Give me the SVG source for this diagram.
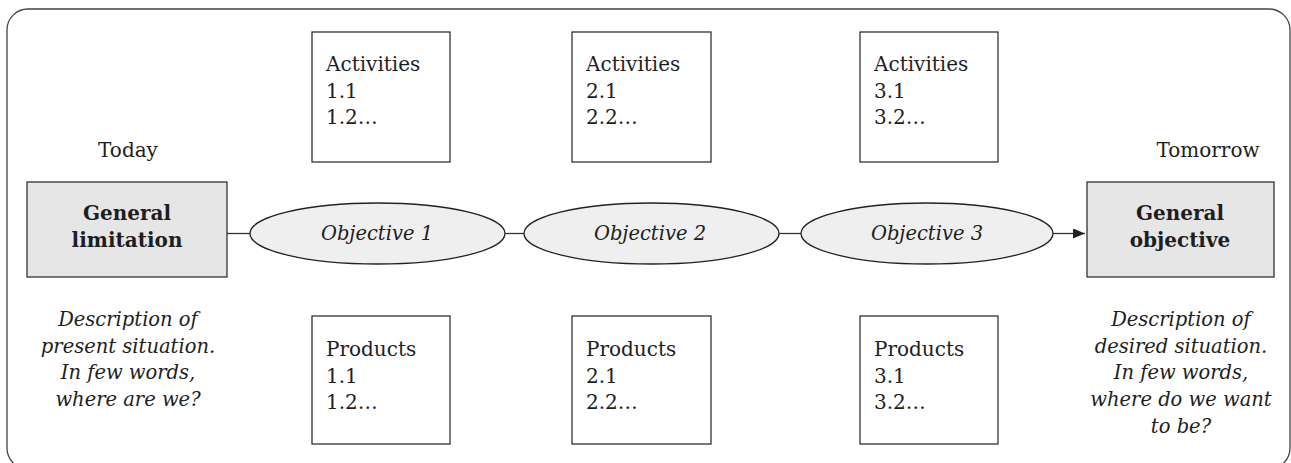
<svg xmlns="http://www.w3.org/2000/svg" width="1291" height="463" viewBox="0 0 1291 463">
  <style>
    .frame { fill: #ffffff; stroke: #444444; stroke-width: 1.3; }
    .box { fill: #ffffff; stroke: #333333; stroke-width: 1.3; }
    .goal { fill: #e6e6e6; stroke: #333333; stroke-width: 1.3; }
    .obj { fill: #efefef; stroke: #222222; stroke-width: 1.3; }
    .link { fill: none; stroke: #333333; stroke-width: 1.3; }
    text { font-family: "DejaVu Serif", "Liberation Serif", serif; font-size: 20px; fill: #1e1e1e; }
    .c { text-anchor: middle; }
    .b { font-weight: bold; }
    .i { font-style: italic; font-size: 19.5px; }
  </style>
  <defs>
    <marker id="arrow" markerWidth="12" markerHeight="10" refX="12" refY="5" orient="auto" markerUnits="userSpaceOnUse">
      <path d="M0,0 L12,5 L0,10 Z" fill="#222222"/>
    </marker>
  </defs>

  <!-- outer frame -->
  <rect class="frame" x="7" y="9" width="1283" height="460" rx="21" ry="21"/>

  <!-- connectors along the objective chain -->
  <g id="connectors">
    <line class="link" x1="227" y1="233.5" x2="250" y2="233.5"/>
    <line class="link" x1="505" y1="233.5" x2="524" y2="233.5"/>
    <line class="link" x1="779" y1="233.5" x2="801" y2="233.5"/>
    <line class="link" x1="1053" y1="233.5" x2="1085" y2="233.5" marker-end="url(#arrow)"/>
  </g>

  <!-- starting point -->
  <g id="today">
    <text class="c" x="128" y="157">Today</text>
    <rect class="goal" x="27" y="182" width="200" height="95"/>
    <text class="c b" x="127" y="220">General</text>
    <text class="c b" x="127" y="247">limitation</text>
    <text class="c i" x="128" y="326">Description of</text>
    <text class="c i" x="128" y="353">present situation.</text>
    <text class="c i" x="128" y="379">In few words,</text>
    <text class="c i" x="128" y="406">where are we?</text>
  </g>

  <!-- target point -->
  <g id="tomorrow">
    <text class="c" x="1208" y="157">Tomorrow</text>
    <rect class="goal" x="1087" y="182" width="187" height="95"/>
    <text class="c b" x="1180" y="220">General</text>
    <text class="c b" x="1180" y="247">objective</text>
    <text class="c i" x="1181" y="326">Description of</text>
    <text class="c i" x="1181" y="353">desired situation.</text>
    <text class="c i" x="1181" y="379">In few words,</text>
    <text class="c i" x="1181" y="406">where do we want</text>
    <text class="c i" x="1181" y="433">to be?</text>
  </g>

  <!-- objectives -->
  <g id="objective1">
    <ellipse class="obj" cx="377.5" cy="233.5" rx="127.5" ry="30.5"/>
    <text class="c i" x="377" y="240">Objective 1</text>
  </g>
  <g id="objective2">
    <ellipse class="obj" cx="651.5" cy="233.5" rx="127.5" ry="30.5"/>
    <text class="c i" x="650" y="240">Objective 2</text>
  </g>
  <g id="objective3">
    <ellipse class="obj" cx="927" cy="233.5" rx="126" ry="30.5"/>
    <text class="c i" x="927" y="240">Objective 3</text>
  </g>

  <!-- activities -->
  <g id="activities1">
    <rect class="box" x="312" y="32" width="138" height="130"/>
    <text x="326" y="71">Activities</text>
    <text x="326" y="98">1.1</text>
    <text x="326" y="124">1.2…</text>
  </g>
  <g id="activities2">
    <rect class="box" x="572" y="32" width="139" height="130"/>
    <text x="586" y="71">Activities</text>
    <text x="586" y="98">2.1</text>
    <text x="586" y="124">2.2…</text>
  </g>
  <g id="activities3">
    <rect class="box" x="860" y="32" width="138" height="130"/>
    <text x="874" y="71">Activities</text>
    <text x="874" y="98">3.1</text>
    <text x="874" y="124">3.2…</text>
  </g>

  <!-- products -->
  <g id="products1">
    <rect class="box" x="312" y="316" width="138" height="128"/>
    <text x="326" y="356">Products</text>
    <text x="326" y="383">1.1</text>
    <text x="326" y="409">1.2…</text>
  </g>
  <g id="products2">
    <rect class="box" x="572" y="316" width="139" height="128"/>
    <text x="586" y="356">Products</text>
    <text x="586" y="383">2.1</text>
    <text x="586" y="409">2.2…</text>
  </g>
  <g id="products3">
    <rect class="box" x="860" y="316" width="138" height="128"/>
    <text x="874" y="356">Products</text>
    <text x="874" y="383">3.1</text>
    <text x="874" y="409">3.2…</text>
  </g>
</svg>
